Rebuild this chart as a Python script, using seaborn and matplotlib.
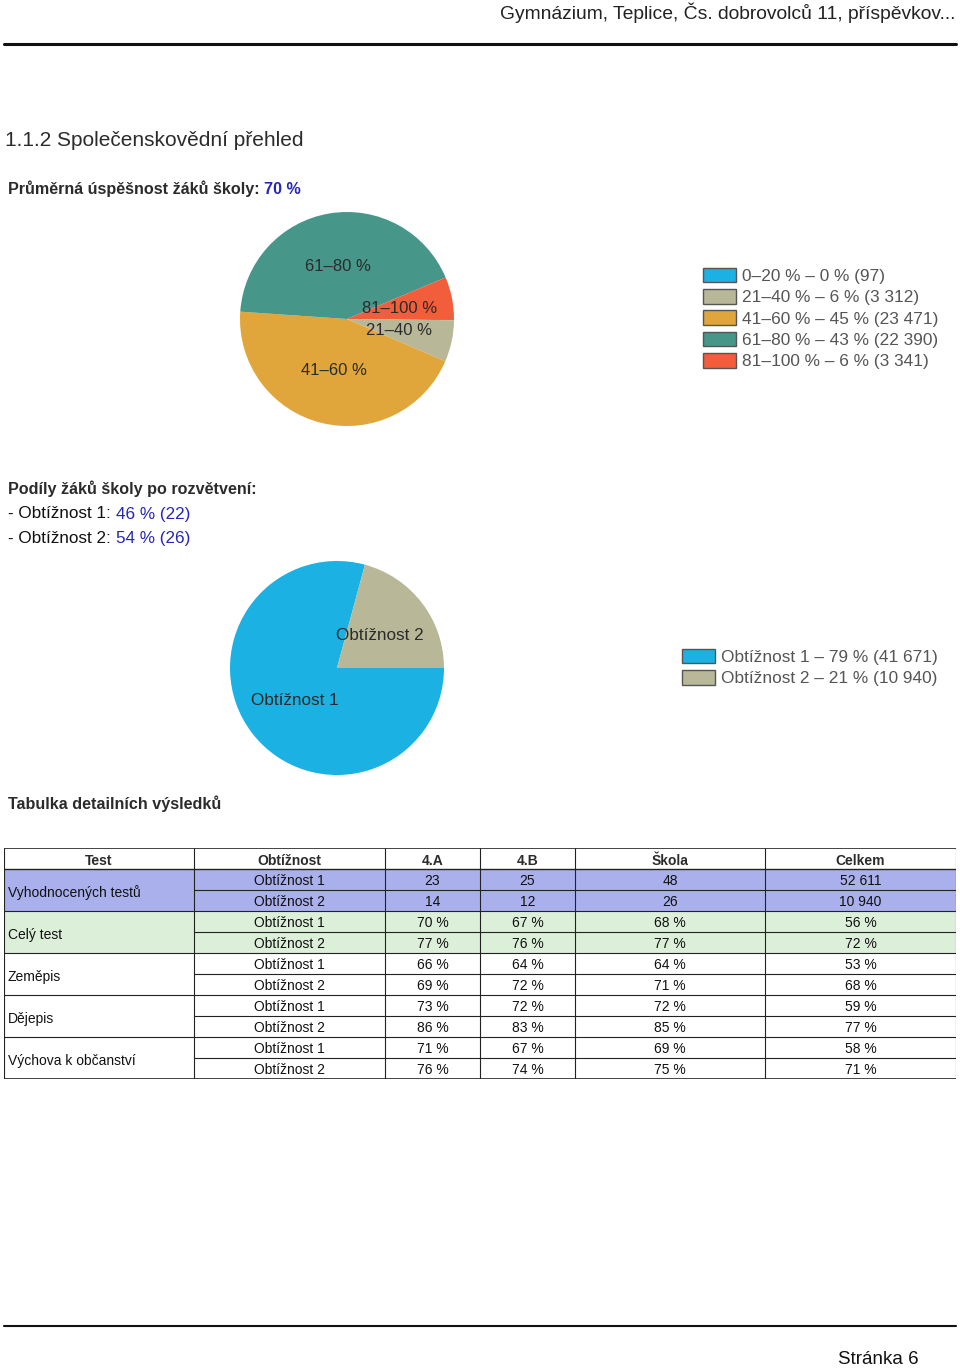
"""
Společenskovědní přehled – page 6 recreation
"""
import numpy as np
import pandas as pd
import matplotlib
matplotlib.use('Agg')
import matplotlib.pyplot as plt
import matplotlib.patches as mpatches
from matplotlib.lines import Line2D
import seaborn as sns

W, H = 960, 1368

# ── data ──────────────────────────────────────────────────────────
band_labels = ['0–20 %', '21–40 %', '41–60 %', '61–80 %', '81–100 %']
band_counts = [97, 3312, 23471, 22390, 3341]
band_pct = [0, 6, 45, 43, 6]
band_colors = ['#1bb1e2', '#b8b898', '#e0a53b', '#46968a', '#f25d3b']

diff_labels = ['Obtížnost 1', 'Obtížnost 2']
diff_counts = [41671, 10940]
diff_pct = [79, 21]
diff_colors = ['#1bb1e2', '#b8b898']

avg_success = 70
school_share = [46, 54]
school_n = [22, 26]

table_cols = ['Test', 'Obtížnost', '4.A', '4.B', 'Škola', 'Celkem']
tests = ['Vyhodnocených testů', 'Celý test', 'Zeměpis', 'Dějepis', 'Výchova k občanství']
class_4a = [23, 14, 70, 77, 66, 69, 73, 86, 71, 76]
class_4b = [25, 12, 67, 76, 64, 72, 72, 83, 67, 74]
school = [48, 26, 68, 77, 64, 71, 72, 85, 69, 75]
total = [52611, 10940, 56, 72, 53, 68, 59, 77, 58, 71]
row_fill = {'Vyhodnocených testů': '#aab0ec', 'Celý test': '#dcefd8'}

# ── style ─────────────────────────────────────────────────────────
sns.set_theme(style='white')
plt.rcParams['font.family'] = ['Liberation Sans', 'DejaVu Sans']
DARK = '#2b2b2b'
GREY = '#555555'
BLUE = '#2626b8'
HEAD = 11.6   # bold sub-headings

fig = plt.figure(figsize=(W / 100, H / 100), dpi=100)
fig.patch.set_facecolor('white')
renderer = fig.canvas.get_renderer()


def fy(y):
    return 1 - y / H


def fx(x):
    return x / W


def rich(x, y, parts, size, weight='normal'):
    """draw text pieces one after another on a line (pixel coords)"""
    cur = fx(x)
    for txt, col in parts:
        t = fig.text(cur, fy(y), txt, color=col, fontsize=size,
                     fontweight=weight, ha='left', va='center')
        bb = t.get_window_extent(renderer=renderer)
        cur = bb.x1 / W


def fmt_n(v):
    return f'{v:,}'.replace(',', ' ')


# ── page header / footer ──────────────────────────────────────────
fig.text(fx(955), fy(13), 'Gymnázium, Teplice, Čs. dobrovolců 11, příspěvkov...',
         ha='right', va='center', fontsize=13.9, color='#222222')
fig.add_artist(Line2D([fx(4), fx(956)], [fy(44), fy(44)], color='#111111', lw=2.2))
fig.add_artist(Line2D([fx(4), fx(956)], [fy(1326), fy(1326)], color='#111111', lw=1.5))
fig.text(fx(878), fy(1359), 'Stránka 6', ha='center', va='center', fontsize=13.5, color='#111111')

fig.text(fx(5), fy(141), '1.1.2 Společenskovědní přehled', ha='left', va='center',
         fontsize=15, color=DARK)
rich(8, 189, [('Průměrná úspěšnost žáků školy: ', DARK), (f'{avg_success} %', BLUE)],
     HEAD, 'bold')

# ── pie 1: success bands ──────────────────────────────────────────
def pie_axes(cx, cy, r):
    ax = fig.add_axes([fx(cx - r), fy(cy + r), 2 * r / W, 2 * r / H])
    return ax


ax1 = pie_axes(347, 319, 107)
ax1.pie(band_counts, colors=sns.color_palette(band_colors), startangle=0,
        counterclock=False, labels=[l if p > 0 else '' for l, p in zip(band_labels, band_pct)],
        labeldistance=0.5, wedgeprops=dict(linewidth=0),
        textprops=dict(fontsize=12, color=DARK, ha='center', va='center'))
ax1.set_xlim(-1, 1); ax1.set_ylim(-1, 1)

leg_kw = dict(loc='upper left', frameon=False, fontsize=12.4, labelcolor=GREY,
              handlelength=1.96, handleheight=0.95, handletextpad=0.35,
              labelspacing=0.29, borderpad=0)
leg1 = [mpatches.Patch(facecolor=c, edgecolor='#555555', linewidth=1,
                       label=f'{l} – {p} % ({fmt_n(n)})')
        for l, p, n, c in zip(band_labels, band_pct, band_counts, band_colors)]
fig.legend(handles=leg1, bbox_to_anchor=(fx(694), fy(259)), **leg_kw)

# ── school split text ─────────────────────────────────────────────
fig.text(fx(8), fy(489), 'Podíly žáků školy po rozvětvení:', ha='left', va='center',
         fontsize=HEAD, fontweight='bold', color=DARK)
for i, (s, n) in enumerate(zip(school_share, school_n)):
    rich(8, 514 + 24 * i, [(f'- Obtížnost {i + 1}: ', '#111111'), (f'{s} % ({n})', BLUE)], 12.3)

# ── pie 2: difficulty split ──────────────────────────────────────
ax2 = pie_axes(337, 668, 107)
ax2.pie(diff_counts, colors=sns.color_palette(diff_colors), startangle=0,
        counterclock=False, labels=diff_labels, labeldistance=0.5,
        wedgeprops=dict(linewidth=0),
        textprops=dict(fontsize=12.3, color=DARK, ha='center', va='center'))
ax2.set_xlim(-1, 1); ax2.set_ylim(-1, 1)

leg2 = [mpatches.Patch(facecolor=c, edgecolor='#555555', linewidth=1,
                       label=f'{l} – {p} % ({fmt_n(n)})')
        for l, p, n, c in zip(diff_labels, diff_pct, diff_counts, diff_colors)]
fig.legend(handles=leg2, bbox_to_anchor=(fx(673), fy(640)), **leg_kw)

# ── detail table ──────────────────────────────────────────────────
fig.text(fx(8), fy(804), 'Tabulka detailních výsledků', ha='left', va='center',
         fontsize=HEAD, fontweight='bold', color=DARK)

rows = []
for i, t in enumerate(tests):
    for d in (1, 2):
        k = 2 * i + d - 1
        if i == 0:
            vals = [fmt_n(class_4a[k]), fmt_n(class_4b[k]), fmt_n(school[k]), fmt_n(total[k])]
        else:
            vals = [f'{class_4a[k]} %', f'{class_4b[k]} %', f'{school[k]} %', f'{total[k]} %']
        rows.append([t, f'Obtížnost {d}'] + vals)
df = pd.DataFrame(rows, columns=table_cols)

col_w = [190, 191, 95, 95, 190, 191]
edges = np.concatenate([[0], np.cumsum(col_w)])
n_rows = len(df) + 1
tab_top, row_h = 848, 21
axt = fig.add_axes([fx(4), fy(tab_top + n_rows * row_h), (edges[-1]) / W, n_rows * row_h / H])
axt.set_xlim(0, edges[-1]); axt.set_ylim(n_rows, 0)
axt.axis('off')

# shaded rows
for r, t in enumerate(df['Test']):
    if t in row_fill:
        axt.add_patch(mpatches.Rectangle((0, r + 1), edges[-1], 1, facecolor=row_fill[t],
                                         edgecolor='none'))

# header
for c, name in enumerate(table_cols):
    axt.text((edges[c] + edges[c + 1]) / 2, 0.6, name, ha='center', va='center',
             fontsize=10, color=DARK, fontweight='bold')

# body
for r in range(len(df)):
    for c in range(1, len(table_cols)):
        axt.text((edges[c] + edges[c + 1]) / 2, r + 1.58, df.iloc[r, c], ha='center',
                 va='center', fontsize=10, color='#111111')
for i, t in enumerate(tests):
    axt.text(4, 2 * i + 2.12, t, ha='left', va='center', fontsize=10, color='#111111')

# grid lines
lc = '#222222'
axt.hlines([0, n_rows], 0, edges[-1], color=lc, lw=1.2)
axt.hlines(1, 0, edges[-1], color=lc, lw=1.0)
for r in range(2, n_rows):
    x0 = 0 if r % 2 == 1 else edges[1]
    axt.hlines(r, x0, edges[-1], color=lc, lw=0.8)
axt.vlines(edges, 0, n_rows, color=lc, lw=0.8)

fig.savefig('out.png', dpi=100, facecolor='white')
